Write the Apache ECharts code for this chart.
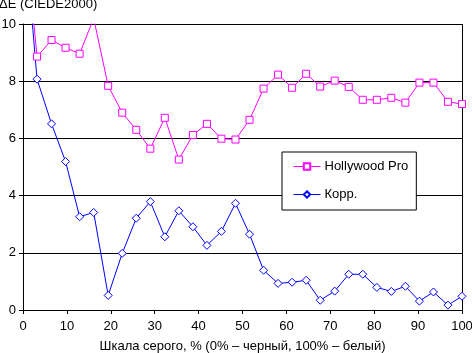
<!DOCTYPE html>
<html>
<head>
<meta charset="utf-8">
<script src="https://cdn.jsdelivr.net/npm/echarts@6/dist/echarts.min.js"></script>
<style>
  html, body { margin: 0; padding: 0; background: #fff; }
  #chart { width: 472px; height: 353px; }
</style>
</head>
<body>
<div id="chart"></div>
<script>
// шкала серого, %
var grayLevels = [0, 3.2, 6.5, 9.7, 12.9, 16.1, 19.4, 22.6, 25.8, 29.0, 32.3, 35.5,
  38.7, 41.9, 45.2, 48.4, 51.6, 54.8, 58.1, 61.3, 64.5, 67.7, 71.0, 74.2,
  77.4, 80.6, 83.9, 87.1, 90.3, 93.5, 96.8, 100];

var hollywoodPro = [14.0, 8.86, 9.44, 9.17, 8.96, 10.2, 7.84, 6.90, 6.30, 5.64, 6.72, 5.26,
  6.12, 6.51, 5.99, 5.96, 6.65, 7.74, 8.23, 7.77, 8.26, 7.81, 8.02, 7.80,
  7.35, 7.35, 7.42, 7.25, 7.95, 7.95, 7.28, 7.20];

var korr = [13.9, 8.07, 6.51, 5.19, 3.26, 3.41, 0.51, 1.98, 3.21, 3.79, 2.56, 3.47,
  2.91, 2.26, 2.75, 3.73, 2.65, 1.39, 0.93, 0.97, 1.04, 0.34, 0.66, 1.25,
  1.25, 0.79, 0.65, 0.83, 0.31, 0.63, 0.17, 0.48];

function pairs(xs, ys) {
  return xs.map(function (x, i) { return [x, ys[i]]; });
}

var font = "Liberation Sans, Arial, sans-serif";
var chart = echarts.init(document.getElementById("chart"));
chart.setOption({
  animation: false,
  textStyle: { fontFamily: font, fontSize: 13, color: "#000" },
  title: {
    text: "ΔE (CIEDE2000)",
    left: -1,
    top: -2,
    padding: 0,
    textStyle: { fontFamily: font, fontSize: 13, fontWeight: "normal", color: "#000" }
  },
  legend: {
    orient: "vertical",
    left: 282,
    top: 152,
    padding: [8, 8, 9, 11],
    backgroundColor: "#fff",
    borderColor: "#000",
    borderWidth: 1,
    borderRadius: 0,
    itemWidth: 27,
    itemHeight: 8,
    itemGap: 15,
    lineStyle: { width: 1 },
    textStyle: { fontFamily: font, fontSize: 13, color: "#000", padding: [0, 0, 0, -1] },
    data: ["Hollywood Pro", "Корр."]
  },
  grid: { left: 23, right: 10, top: 24, bottom: 43, outerBoundsMode: "none", containLabel: false },
  xAxis: {
    type: "value",
    min: 0,
    max: 100,
    interval: 10,
    name: "Шкала серого, % (0% – черный, 100% – белый)",
    nameLocation: "middle",
    nameGap: 30,
    nameTextStyle: { fontFamily: font, fontSize: 13, color: "#000" },
    axisLine: { lineStyle: { color: "#000", width: 1 } },
    axisTick: { show: true, length: 4, lineStyle: { color: "#000" } },
    axisLabel: { margin: 10, color: "#000", fontFamily: font, fontSize: 13 },
    splitLine: { show: false }
  },
  yAxis: {
    type: "value",
    min: 0,
    max: 10,
    interval: 2,
    axisLine: { show: true, lineStyle: { color: "#000", width: 1 } },
    axisTick: { show: true, length: 4, lineStyle: { color: "#000" } },
    axisLabel: { margin: 7, color: "#000", fontFamily: font, fontSize: 13 },
    splitLine: { show: true, lineStyle: { color: "#000", width: 1 } }
  },
  graphic: [{
    type: "line",
    shape: { x1: 462.5, y1: 24, x2: 462.5, y2: 310 },
    style: { stroke: "#000", lineWidth: 1 }
  }],
  series: [
    {
      name: "Hollywood Pro",
      type: "line",
      data: pairs(grayLevels, hollywoodPro),
      symbol: "rect",
      symbolSize: 7,
      showAllSymbol: true,
      clip: true,
      lineStyle: { color: "#ff00ff", width: 1 },
      itemStyle: { color: "#fff", borderColor: "#ff00ff", borderWidth: 1 }
    },
    {
      name: "Корр.",
      type: "line",
      data: pairs(grayLevels, korr),
      symbol: "diamond",
      symbolSize: 8,
      showAllSymbol: true,
      clip: true,
      lineStyle: { color: "#0000ff", width: 1 },
      itemStyle: { color: "#fff", borderColor: "#0000ff", borderWidth: 1 }
    }
  ]
});
</script>
</body>
</html>
